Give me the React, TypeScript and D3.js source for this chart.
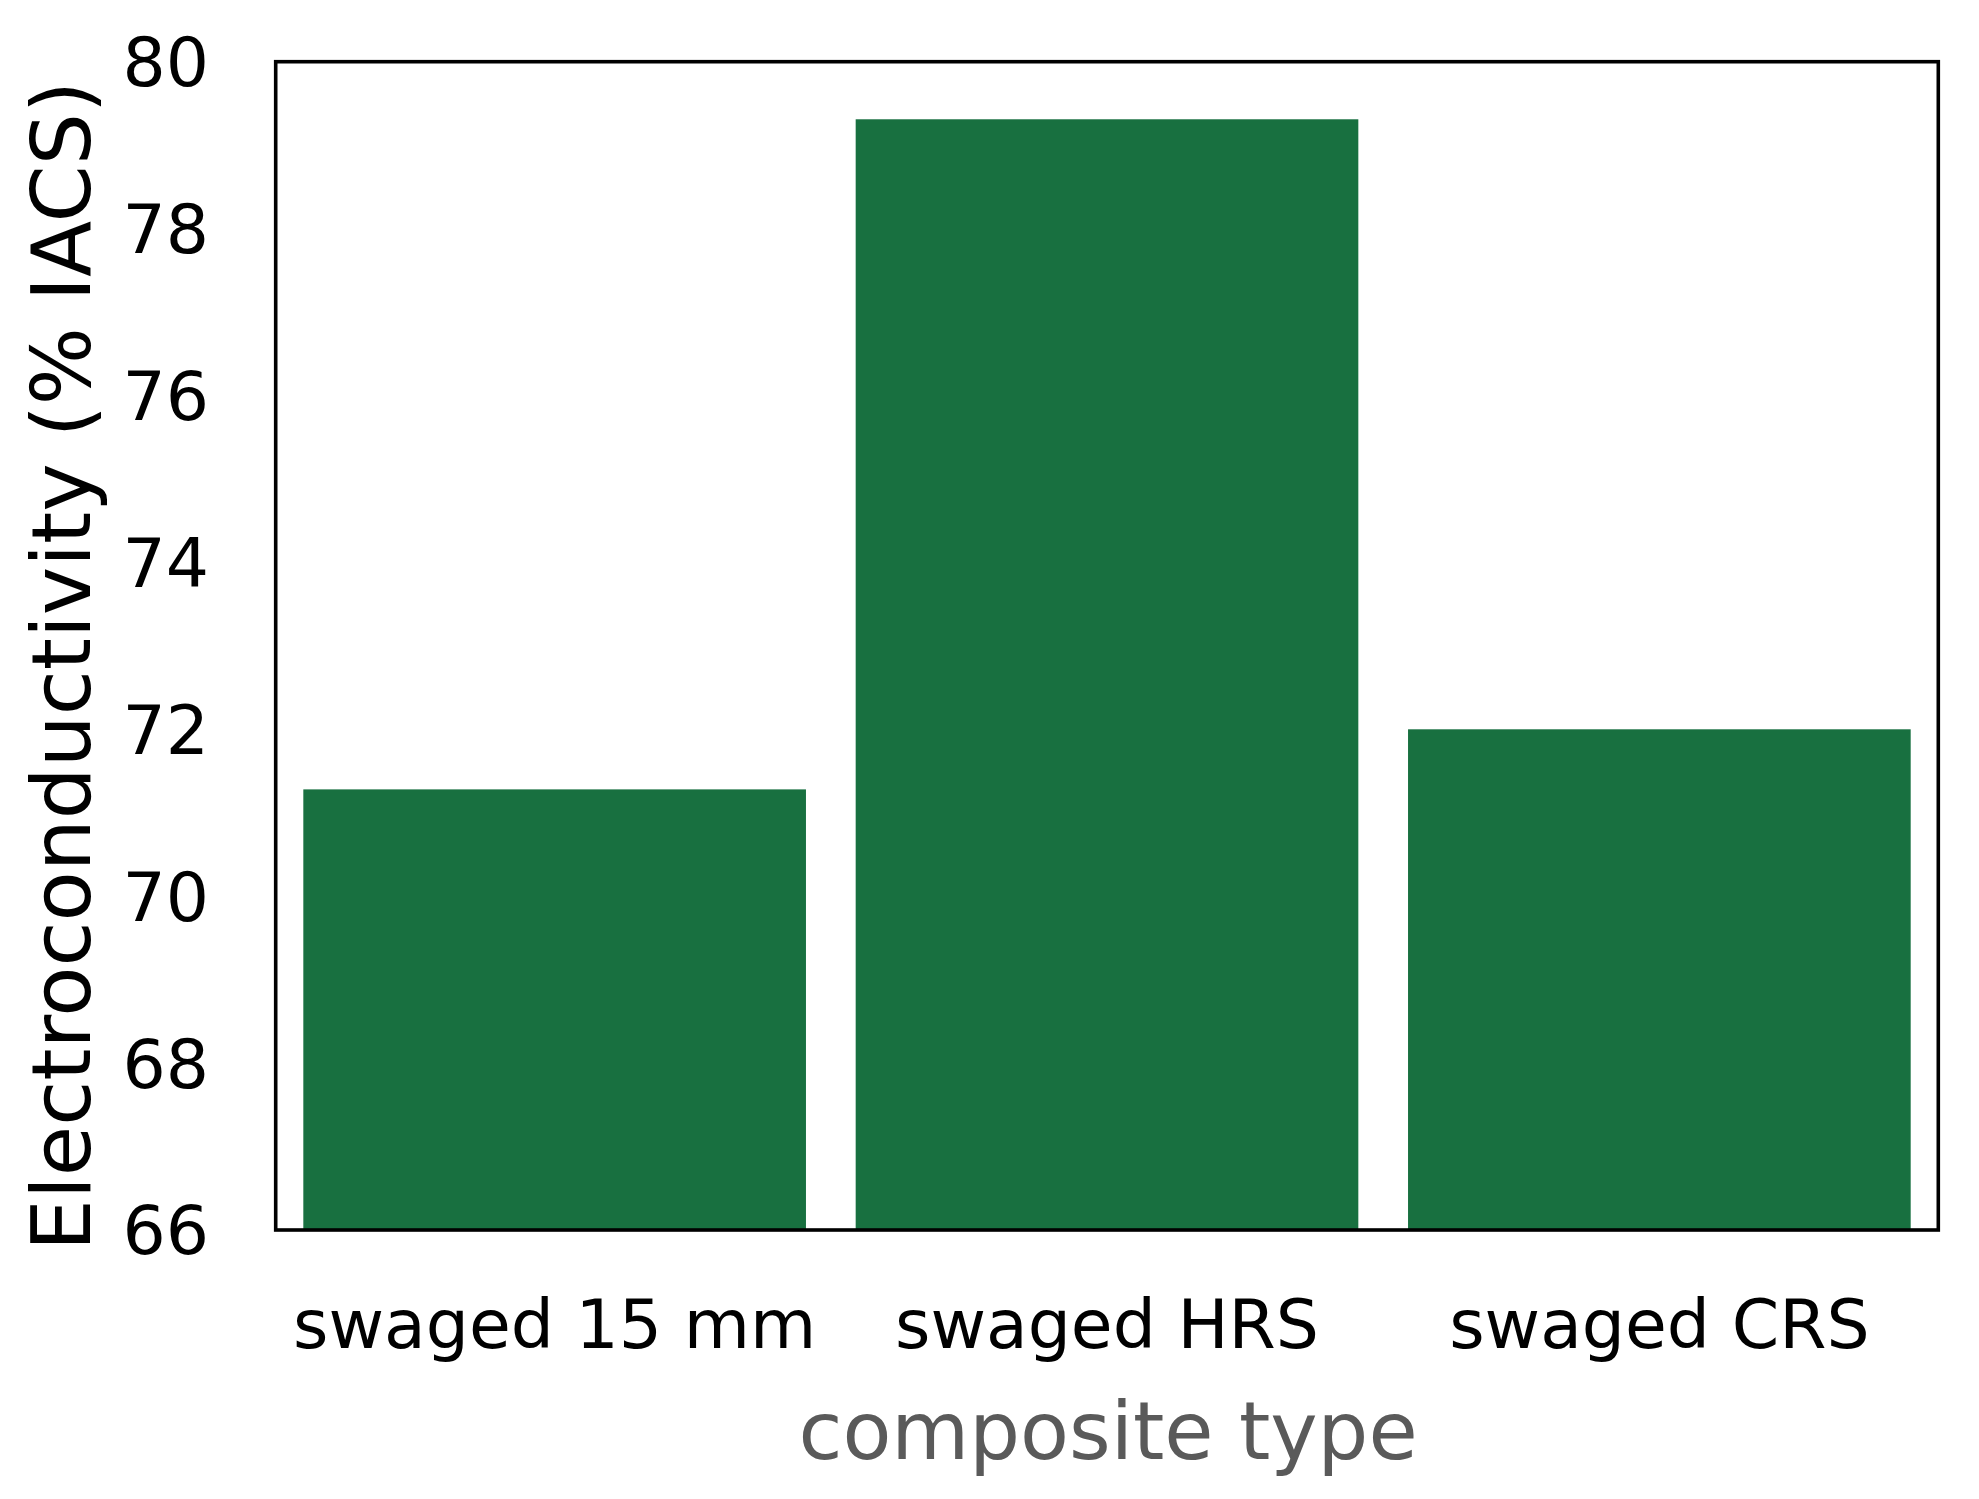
import React from "react";
import * as d3 from "d3";

const categories = ["swaged 15 mm", "swaged HRS", "swaged CRS"];
const values = [71.28, 79.31, 72.0];
const yTicks = [66, 68, 70, 72, 74, 76, 78, 80];
const yLabel = "Electroconductivity (% IACS)";
const xLabel = "composite type";

const W = 1979;
const H = 1499;
const left = 275.7;
const right = 1938.3;
const top = 61.7;
const bottom = 1230;
const FONT = "'DejaVu Sans', Verdana, sans-serif";

export default function App() {
  const x = d3
    .scaleBand<string>()
    .domain(categories)
    .range([left, right])
    .paddingInner(0.09)
    .paddingOuter(0.05);
  const y = d3.scaleLinear().domain([66, 80]).range([bottom, top]);

  return (
    <svg
      width={W}
      height={H}
      style={{ position: "absolute", left: 0, top: 0, background: "#fff" }}
      fontFamily={FONT}
    >
      <rect x={0} y={0} width={W} height={H} fill="#fff" />
      {categories.map((c, i) => (
        <rect
          key={c}
          x={x(c)}
          y={y(values[i])}
          width={x.bandwidth()}
          height={y(66) - y(values[i])}
          fill="#187040"
        />
      ))}
      <rect
        x={left}
        y={top}
        width={right - left}
        height={bottom - top}
        fill="none"
        stroke="#000"
        strokeWidth={3.6}
      />
      {yTicks.map((t) => (
        <text
          key={t}
          x={209}
          y={y(t)}
          dy="0.36em"
          textAnchor="end"
          fontSize={68}
          fill="#000"
        >
          {t}
        </text>
      ))}
      {categories.map((c) => (
        <text
          key={c}
          x={(x(c) as number) + x.bandwidth() / 2}
          y={1348}
          textAnchor="middle"
          fontSize={68}
          fill="#000"
        >
          {c}
        </text>
      ))}
      <text
        x={1108}
        y={1459}
        textAnchor="middle"
        fontSize={80}
        fill="#5a5a5a"
      >
        {xLabel}
      </text>
      <text
        transform={`translate(90, 666) rotate(-90)`}
        textAnchor="middle"
        fontSize={82}
        fill="#000"
      >
        {yLabel}
      </text>
    </svg>
  );
}
